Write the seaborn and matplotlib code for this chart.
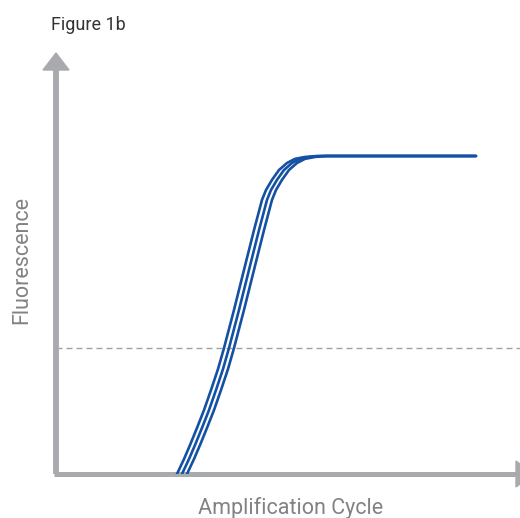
import matplotlib
matplotlib.use("Agg")
import matplotlib.pyplot as plt
import seaborn as sns
import pandas as pd
from matplotlib.patches import Polygon

sns.set_theme(style="white")
plt.rcParams['font.family'] = ['Roboto', 'DejaVu Sans']

# Data (cycle, fluorescence)
fluor = [0, 4.7, 9.1, 14.5, 20.1, 26.4, 33.0, 39.6, 51.6, 64.2, 76.7, 86.2, 89.3, 92.5, 95.6, 97.8, 99.1, 99.7, 100, 100]
cycles_a = [12.1, 12.8, 13.4, 14.1, 14.8, 15.5, 16.2, 16.8, 17.8, 18.8, 19.8, 20.6, 21.0, 21.6, 22.3, 23.1, 23.9, 24.9, 26.1, 42.0]
cycles_b = [12.6, 13.3, 13.9, 14.6, 15.3, 16.0, 16.7, 17.3, 18.3, 19.3, 20.3, 21.1, 21.5, 22.1, 22.8, 23.6, 24.4, 25.4, 26.6, 42.0]
cycles_c = [13.1, 13.8, 14.4, 15.1, 15.8, 16.5, 17.2, 17.8, 18.8, 19.8, 20.8, 21.6, 22.0, 22.6, 23.3, 24.1, 24.9, 25.9, 27.1, 42.0]
threshold = 39.6

df = pd.concat([
    pd.DataFrame({"cycle": cycles_a, "fluor": fluor, "run": "a"}),
    pd.DataFrame({"cycle": cycles_b, "fluor": fluor, "run": "b"}),
    pd.DataFrame({"cycle": cycles_c, "fluor": fluor, "run": "c"}),
])

W, H = 520, 518
fig = plt.figure(figsize=(W / 100, H / 100), dpi=100)
# axes: origin at px (56, 474), top at py 53, right at px 520
ax = fig.add_axes([56 / W, (H - 474) / H, (W - 56) / W, (474 - 53) / H])
xmax = (W - 56) / 10
ymax = (474 - 53) / 3.18
ax.set_xlim(0, xmax)
ax.set_ylim(0, ymax)
ax.axis("off")

blue = "#1450a3"
sns.lineplot(data=df, x="cycle", y="fluor", units="run", estimator=None,
             color=blue, lw=1.9, ax=ax, sort=False, zorder=3)

ax.axhline(threshold, color="#a0a0a0", lw=1.0, ls=(0, (4.3, 2.9)), zorder=1)

gray = "#a9aaae"
# y axis with arrow
head_y = (474 - 70) / 3.18
ax.plot([0, 0], [0, head_y], color=gray, lw=4.2, solid_capstyle="butt", clip_on=False, zorder=2)
ax.add_patch(Polygon([[-1.3, head_y], [1.3, head_y], [0, ymax]], closed=True,
                     color=gray, clip_on=False, zorder=2))
# x axis with arrow
head_x = (516 - 56) / 10
ax.plot([-0.25, head_x], [0, 0], color=gray, lw=3.6, solid_capstyle="butt", clip_on=False, zorder=2)
ax.add_patch(Polygon([[head_x, 13 / 3.18], [head_x, -13 / 3.18], [head_x + 1.7, 0]], closed=True,
                     color=gray, clip_on=False, zorder=2))

fig.text(51 / W, 1 - 30 / H, "Figure 1b", fontsize=13, color="#333333", va="baseline", ha="left")
fig.text(32 / W, 1 - 260.5 / H, "Fluorescence", fontsize=15.5, color="#828282", rotation=90,
         va="center", ha="right")
fig.text(291 / W, 1 - 514 / H, "Amplification Cycle", fontsize=15.5, color="#828282",
         va="baseline", ha="center")

fig.savefig("out.png", dpi=100)
